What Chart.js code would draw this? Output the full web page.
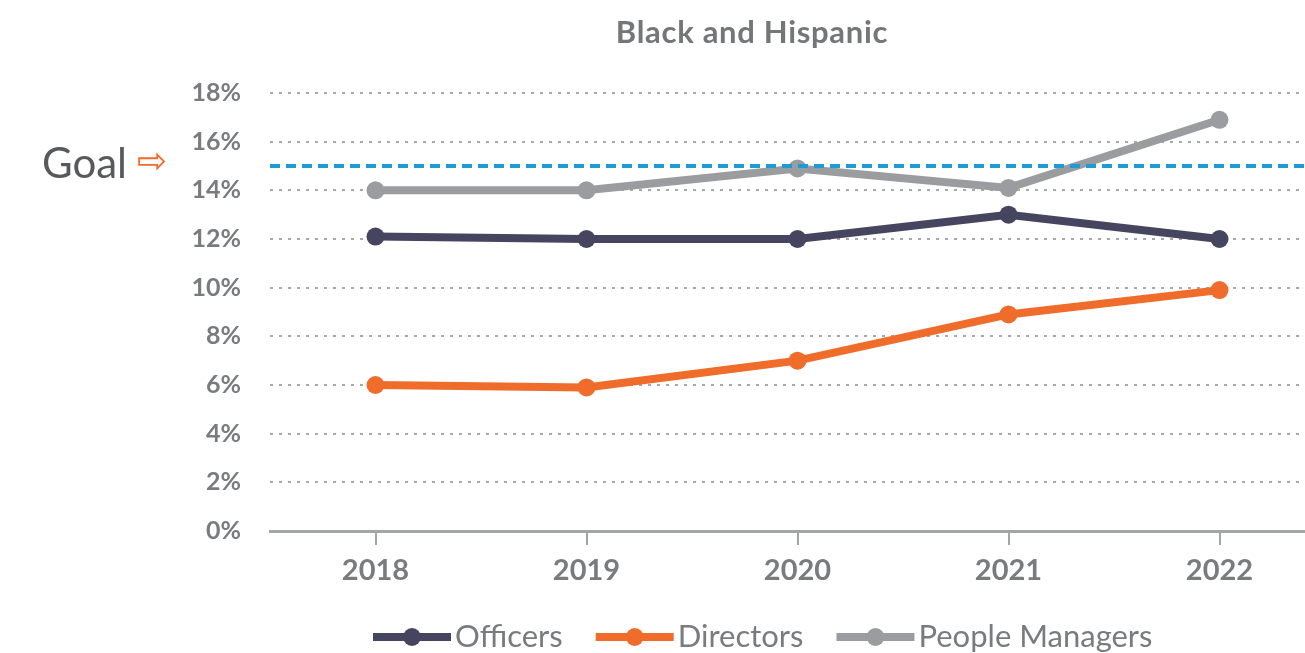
<!DOCTYPE html>
<html>
<head>
<meta charset="utf-8">
<script src="https://cdn.jsdelivr.net/npm/chart.js@4.4.1/dist/chart.umd.min.js"></script>
<style>
  html, body { margin: 0; padding: 0; background: #ffffff; overflow: hidden; }
  #wrap { width: 1334px; height: 653px; position: relative; }
</style>
</head>
<body>
<div id="wrap"><canvas id="c"></canvas></div>
<script>
// ---- Data ----
const categories = ['2018', '2019', '2020', '2021', '2022'];
const officers = [12.1, 12.0, 12.0, 13.0, 12.0];
const directors = [6.0, 5.9, 7.0, 8.9, 9.9];
const peopleManagers = [14.0, 14.0, 14.9, 14.1, 16.9];
const goalValue = 15;
const seriesLabels = ['Officers', 'Directors', 'People Managers'];
const yTickMin = 0, yTickMax = 18, yTickStep = 2;
const titleText = 'Black and Hispanic';
const goalText = 'Goal';

// ---- Styles ----
const colors = ['#45455f', '#ef6c2a', '#9b9c9f'];
const textGray = '#797b7e';
const fontFamily = 'Lato, "Open Sans", sans-serif';

const overlay = {
  id: 'overlay',
  afterDatasetsDraw(chart) {
    const ctx = chart.ctx;
    const ya = chart.scales.y;
    const area = chart.chartArea;
    const gy = ya.getPixelForValue(goalValue);
    ctx.save();
    ctx.strokeStyle = '#1e9bd7';
    ctx.lineWidth = 4;
    ctx.setLineDash([10, 6]);
    ctx.beginPath();
    ctx.moveTo(area.left, gy);
    ctx.lineTo(area.right, gy);
    ctx.stroke();
    ctx.setLineDash([]);
    ctx.fillStyle = '#58595b';
    ctx.font = '42px ' + fontFamily;
    ctx.textAlign = 'right';
    ctx.textBaseline = 'middle';
    ctx.fillText(goalText, 127, gy - 2);
    ctx.fillStyle = '#ef6c2a';
    ctx.font = '36px "DejaVu Sans"';
    ctx.textAlign = 'left';
    ctx.fillText('\u21E8', 137, gy - 2);
    ctx.restore();
  },
  afterDraw(chart) {
    const ctx = chart.ctx;
    ctx.save();
    // title
    ctx.fillStyle = '#74767a';
    ctx.font = 'bold 31px ' + fontFamily;
    ctx.letterSpacing = '0.7px';
    ctx.textAlign = 'center';
    ctx.textBaseline = 'middle';
    ctx.fillText(titleText, 752, 33);
    ctx.letterSpacing = '0px';
    // legend
    let x = 373;
    const y = 637;
    ctx.font = '31px ' + fontFamily;
    ctx.textAlign = 'left';
    chart.data.datasets.forEach(ds => {
      ctx.strokeStyle = ds.borderColor;
      ctx.lineWidth = 8;
      ctx.beginPath();
      ctx.moveTo(x, y);
      ctx.lineTo(x + 78, y);
      ctx.stroke();
      ctx.fillStyle = ds.borderColor;
      ctx.beginPath();
      ctx.arc(x + 39, y, 9, 0, Math.PI * 2);
      ctx.fill();
      ctx.fillStyle = textGray;
      ctx.fillText(ds.label, x + 82, y);
      x += 82 + ctx.measureText(ds.label).width + 33;
    });
    ctx.restore();
  }
};

const seriesData = [officers, directors, peopleManagers];
new Chart(document.getElementById('c'), {
  type: 'line',
  data: {
    labels: categories,
    datasets: seriesData.map((d, i) => ({
      label: seriesLabels[i],
      data: d,
      borderColor: colors[i],
      backgroundColor: colors[i],
      borderWidth: 8,
      pointRadius: 9,
      pointHoverRadius: 9,
      pointBorderWidth: 0,
      tension: 0,
      fill: false
    }))
  },
  options: {
    responsive: true,
    maintainAspectRatio: false,
    animation: false,
    events: [],
    layout: { padding: { top: 93, right: 1, left: 0, bottom: 0 } },
    plugins: {
      legend: { display: false },
      title: { display: false },
      tooltip: { enabled: false }
    },
    scales: {
      x: {
        offset: true,
        grid: {
          offset: false,
          drawOnChartArea: false,
          drawTicks: true,
          tickLength: 14,
          color: '#a3a5a8',
          lineWidth: 2
        },
        border: { display: true, color: '#a3a5a8', width: 3 },
        ticks: {
          color: textGray,
          font: { family: fontFamily, size: 29, weight: 'bold' },
          padding: 8
        },
        afterFit(scale) { scale.height = 122; }
      },
      y: {
        min: yTickMin,
        max: yTickMax,
        ticks: {
          stepSize: yTickStep,
          color: textGray,
          font: { family: fontFamily, size: 25, weight: 'bold' },
          padding: 29,
          callback: v => v + '%'
        },
        grid: {
          drawTicks: false,
          color: c => (c.tick && c.tick.value === 0) ? 'rgba(0,0,0,0)' : '#a8a8a8',
          lineWidth: 2
        },
        border: { display: false, dash: [3, 6] },
        afterFit(scale) { scale.width = 270; }
      }
    }
  },
  plugins: [overlay]
});
</script>
</body>
</html>
